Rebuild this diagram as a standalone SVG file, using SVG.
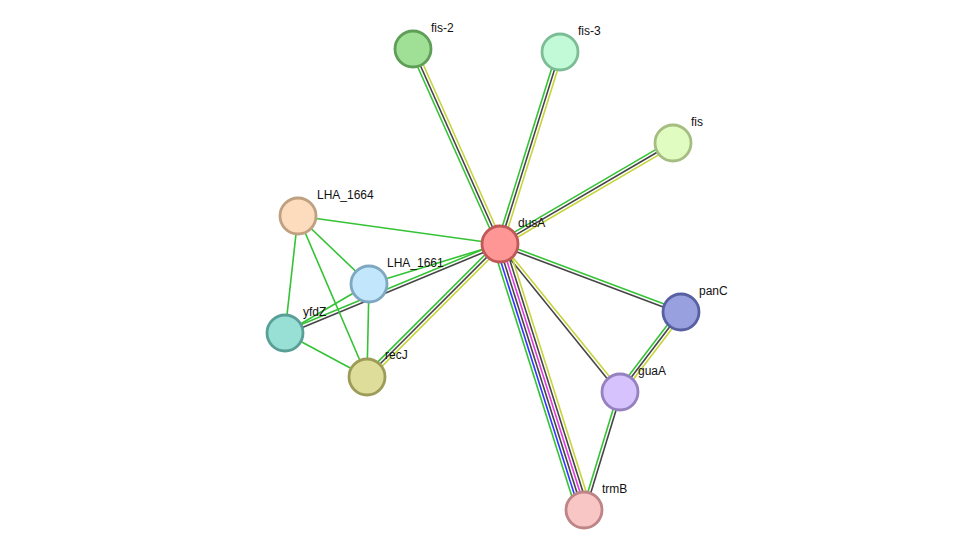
<svg xmlns="http://www.w3.org/2000/svg" width="976" height="556" viewBox="0 0 976 556">
<style>
.e line{stroke-width:1.6;fill:none}
.g{stroke:#35c335}.k{stroke:#454545}.y{stroke:#c6d43c}.b{stroke:#3535ff}.m{stroke:#e03ae0}
.n circle{stroke-width:2.8}
.n text{font-family:"Liberation Sans",Arial,sans-serif;font-size:12px;fill:#111}
</style>
<rect width="976" height="556" fill="#fff"/>
<g id="connectors" class="e">
<!-- dusA-fis-2 -->
<line class="g" x1="410.26" y1="50.22" x2="497.26" y2="245.22"/>
<line class="k" x1="413" y1="49" x2="500" y2="244"/>
<line class="y" x1="415.74" y1="47.78" x2="502.74" y2="242.78"/>
<!-- dusA-fis-3 -->
<line class="g" x1="557.14" y1="51.11" x2="497.14" y2="243.11"/>
<line class="k" x1="560" y1="52" x2="500" y2="244"/>
<line class="y" x1="562.86" y1="52.89" x2="502.86" y2="244.89"/>
<!-- dusA-fis -->
<line class="g" x1="498.49" y1="241.41" x2="671.49" y2="140.41"/>
<line class="k" x1="500" y1="244" x2="673" y2="143"/>
<line class="y" x1="501.51" y1="246.59" x2="674.51" y2="145.59"/>
<!-- dusA-panC -->
<line class="g" x1="500.53" y1="242.6" x2="681.53" y2="310.6"/>
<line class="k" x1="499.47" y1="245.4" x2="680.47" y2="313.4"/>
<!-- dusA-guaA -->
<line class="y" x1="501.17" y1="243.05" x2="621.17" y2="391.05"/>
<line class="k" x1="498.83" y1="244.95" x2="618.83" y2="392.95"/>
<!-- dusA-trmB -->
<line class="g" x1="492.85" y1="246.26" x2="576.85" y2="512.26"/>
<line class="b" x1="495.71" y1="245.35" x2="579.71" y2="511.35"/>
<line class="k" x1="498.57" y1="244.45" x2="582.57" y2="510.45"/>
<line class="m" x1="501.43" y1="243.55" x2="585.43" y2="509.55"/>
<line class="k" x1="504.29" y1="242.65" x2="588.29" y2="508.65"/>
<line class="y" x1="507.15" y1="241.74" x2="591.15" y2="507.74"/>
<!-- recJ-dusA -->
<line class="g" x1="364.88" y1="374.88" x2="497.88" y2="241.88"/>
<line class="k" x1="367" y1="377" x2="500" y2="244"/>
<line class="y" x1="369.12" y1="379.12" x2="502.12" y2="246.12"/>
<!-- yfdZ-dusA -->
<line class="g" x1="284.43" y1="331.61" x2="499.43" y2="242.61"/>
<line class="k" x1="285.57" y1="334.39" x2="500.57" y2="245.39"/>
<!-- LHA_1661-dusA -->
<line class="g" x1="369" y1="284" x2="500" y2="244"/>
<!-- LHA_1664-dusA -->
<line class="g" x1="298" y1="216" x2="500" y2="244"/>
<!-- cluster -->
<line class="g" x1="298" y1="216" x2="369" y2="284"/>
<line class="g" x1="298" y1="216" x2="285" y2="333"/>
<line class="g" x1="298" y1="216" x2="367" y2="377"/>
<line class="g" x1="369" y1="284" x2="285" y2="333"/>
<line class="g" x1="369" y1="284" x2="367" y2="377"/>
<line class="g" x1="285" y1="333" x2="367" y2="377"/>
<!-- panC-guaA -->
<line class="g" x1="678.61" y1="310.18" x2="617.61" y2="390.18"/>
<line class="k" x1="681" y1="312" x2="620" y2="392"/>
<line class="y" x1="683.39" y1="313.82" x2="622.39" y2="393.82"/>
<!-- guaA-trmB -->
<line class="g" x1="618.57" y1="391.56" x2="582.57" y2="509.56"/>
<line class="k" x1="621.43" y1="392.44" x2="585.43" y2="510.44"/>
</g>
<g id="fis-2" class="n"><circle cx="413" cy="49" r="18" fill="#a0e096" stroke="#5f9e57"/><text x="431" y="32">fis-2</text></g>
<g id="fis-3" class="n"><circle cx="560" cy="52" r="18" fill="#c2fad8" stroke="#7dbd96"/><text x="578" y="35">fis-3</text></g>
<g id="fis" class="n"><circle cx="673" cy="143" r="18" fill="#e0fcc0" stroke="#a5bd80"/><text x="691" y="126">fis</text></g>
<g id="dusA" class="n"><circle cx="500" cy="244" r="18" fill="#ff9696" stroke="#c05858"/><text x="518" y="227">dusA</text></g>
<g id="LHA_1664" class="n"><circle cx="298" cy="216" r="18" fill="#fddcbe" stroke="#bfa080"/><text x="317" y="199">LHA_1664</text></g>
<g id="LHA_1661" class="n"><circle cx="369" cy="284" r="18" fill="#c2e7fc" stroke="#7ea7c0"/><text x="387" y="267">LHA_1661</text></g>
<g id="yfdZ" class="n"><circle cx="285" cy="333" r="18" fill="#98e0d6" stroke="#5a9f96"/><text x="303" y="316">yfdZ</text></g>
<g id="recJ" class="n"><circle cx="367" cy="377" r="18" fill="#dede9a" stroke="#9c9c58"/><text x="385" y="359">recJ</text></g>
<g id="panC" class="n"><circle cx="681" cy="312" r="18" fill="#98a0e0" stroke="#5760a0"/><text x="699" y="295">panC</text></g>
<g id="guaA" class="n"><circle cx="620" cy="392" r="18" fill="#d6c2fc" stroke="#9580c0"/><text x="638" y="375">guaA</text></g>
<g id="trmB" class="n"><circle cx="584" cy="510" r="18" fill="#f9c6c6" stroke="#bd8585"/><text x="602" y="493">trmB</text></g>
</svg>
